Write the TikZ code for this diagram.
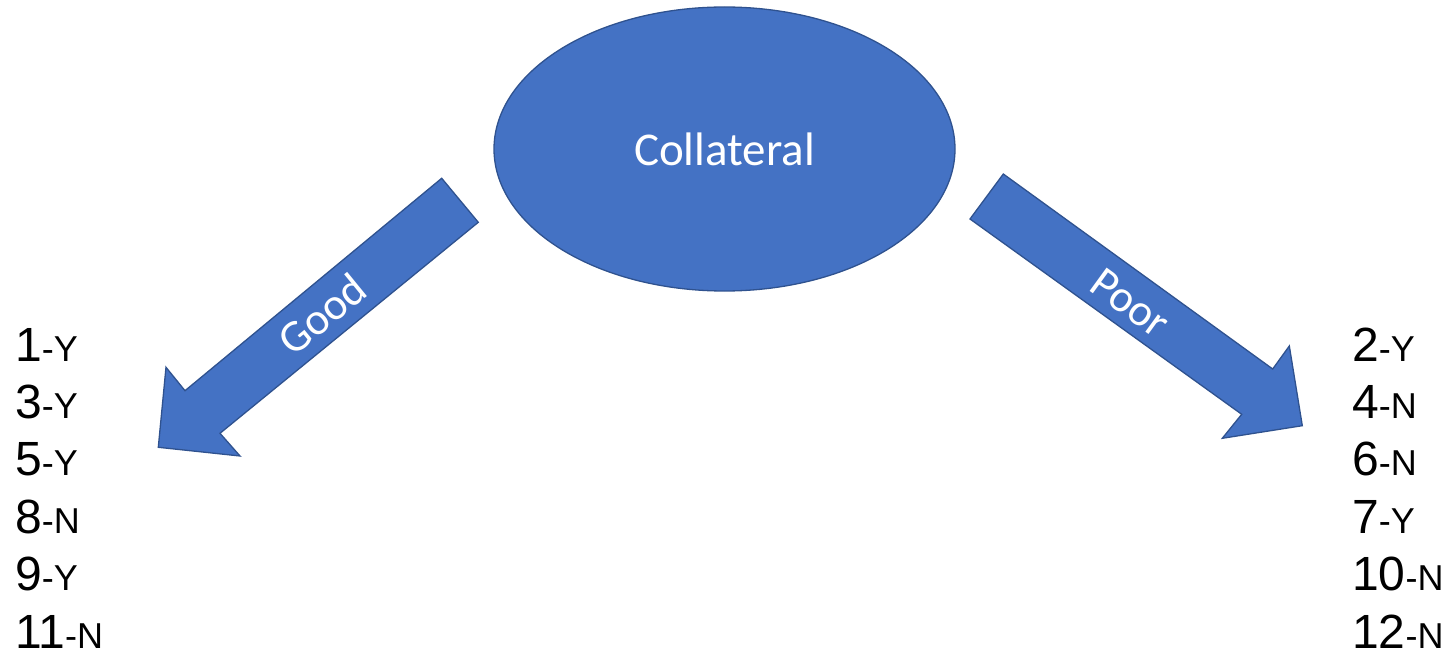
\documentclass[tikz,border=0pt]{standalone}
\usepackage{fontspec}
\usetikzlibrary{shapes.geometric}
\newfontfamily\calib{Carlito}
\newfontfamily\arialish{Liberation Sans}
\definecolor{shapefill}{HTML}{4472C4}
\definecolor{shapeedge}{HTML}{2F528F}
\tikzset{
  blueshape/.style={fill=shapefill, draw=shapeedge, line width=1.3pt, line join=miter},
  bubble/.style={blueshape, ellipse, minimum width=461pt, minimum height=284pt, inner sep=0pt,
    text=white, font=\calib\fontsize{47}{56}\selectfont},
  arrowtext/.style={text=white, font=\calib\fontsize{45}{54}\selectfont, inner sep=0pt},
  outcome/.style={anchor=base west, inner sep=0pt, font=\arialish\fontsize{48}{57.6}\selectfont},
}
\newcommand{\verdict}[1]{{\fontsize{36}{43}\selectfont #1}}
\begin{document}
\begin{tikzpicture}[x=1pt, y=-1pt]
  \useasboundingbox (0,0) rectangle (1455,652);

  % central ellipse
  \node[bubble] (coll) at (724.5,149) {Collateral};

  % left block arrow
  \draw[blueshape] (441.7,178.3) -- (478.3,222.3) -- (220,433.3) -- (240,456)
    -- (158.3,447.3) -- (166,367.3) -- (185,390.7) -- cycle;
  \node[arrowtext, rotate=39.2] (good) at (322,314) {Good};

  % right block arrow
  \draw[blueshape] (1003.3,174) -- (970,219) -- (1241.7,414.3) -- (1222.3,438.3)
    -- (1302.3,425.7) -- (1289.3,346) -- (1272.7,369) -- cycle;
  \node[arrowtext, rotate=-36] (poor) at (1130,303) {Poor};

  % left list
  \node[outcome] (l1) at (15,361)   {1\verdict{-Y}};
  \node[outcome] (l2) at (15,418.4) {3\verdict{-Y}};
  \node[outcome] (l3) at (15,475.8) {5\verdict{-Y}};
  \node[outcome] (l4) at (15,533.2) {8\verdict{-N}};
  \node[outcome] (l5) at (15,590.6) {9\verdict{-Y}};
  \node[outcome] (l6) at (15,648)   {11\verdict{-N}};

  % right list
  \node[outcome] (r1) at (1352,361)   {2\verdict{-Y}};
  \node[outcome] (r2) at (1352,418.4) {4\verdict{-N}};
  \node[outcome] (r3) at (1352,475.8) {6\verdict{-N}};
  \node[outcome] (r4) at (1352,533.2) {7\verdict{-Y}};
  \node[outcome] (r5) at (1352,590.6) {10\verdict{-N}};
  \node[outcome] (r6) at (1352,648)   {12\verdict{-N}};
\end{tikzpicture}
\end{document}
